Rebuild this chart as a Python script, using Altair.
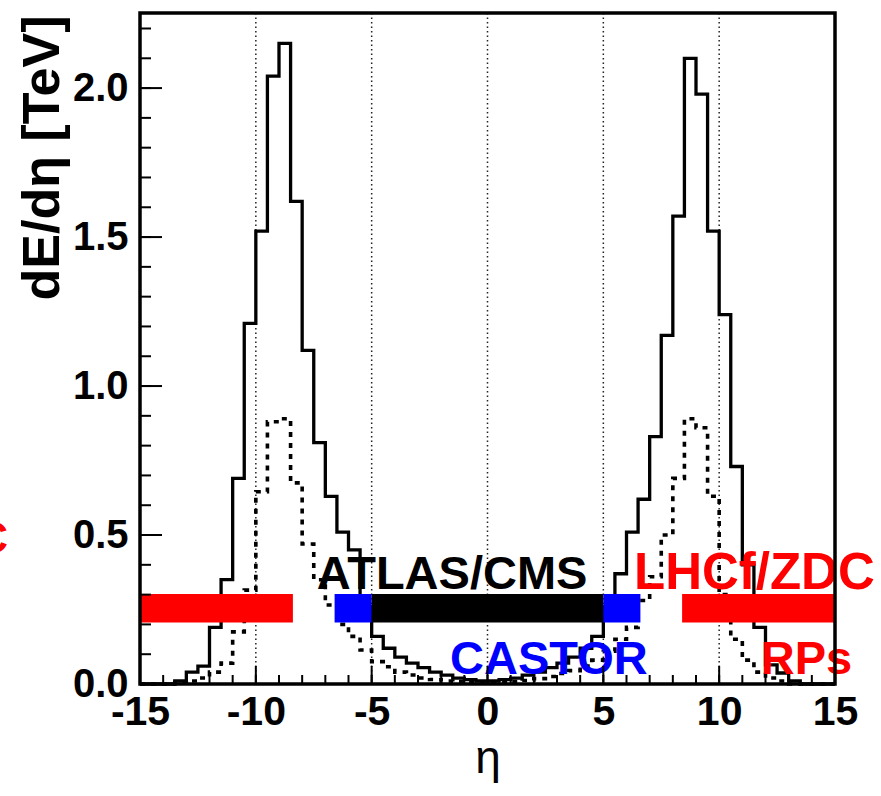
import altair as alt
import pandas as pd

# ---------------- data ----------------
bin_width = 0.5
bin_lo = [-15 + bin_width * i for i in range(60)]

solid_vals = [
    0, 0, 0, 0.01, 0.04, 0.06, 0.19, 0.35, 0.69, 1.21,
    1.52, 2.04, 2.15, 1.62, 1.12, 0.81, 0.63, 0.51, 0.45, 0.26,
    0.16, 0.12, 0.09, 0.07, 0.055, 0.04, 0.03, 0.02, 0.015, 0.01,
    0.01, 0.015, 0.02, 0.03, 0.04, 0.055, 0.07, 0.09, 0.12, 0.16,
    0.26, 0.37, 0.51, 0.62, 0.83, 1.17, 1.57, 2.10, 1.98, 1.52,
    1.24, 0.73, 0.40, 0.19, 0.064, 0.037, 0.01, 0, 0, 0,
]
dotted_vals = [
    0, 0, 0, 0.005, 0.01, 0.02, 0.04, 0.07, 0.175, 0.315,
    0.645, 0.88, 0.89, 0.675, 0.47, 0.35, 0.265, 0.20, 0.16, 0.114,
    0.075, 0.058, 0.04, 0.03, 0.02, 0.015, 0.01, 0.008, 0.005, 0.005,
    0.005, 0.005, 0.008, 0.012, 0.018, 0.025, 0.035, 0.045, 0.06, 0.08,
    0.11, 0.15, 0.19, 0.28, 0.36, 0.50, 0.69, 0.89, 0.86, 0.63,
    0.30, 0.15, 0.08, 0.04, 0.02, 0.01, 0, 0, 0, 0,
]

# detector acceptance bars
bar_start = [-15, -6.6, -5, 5, 8.4]
bar_end = [-8.4, -5, 5, 6.6, 15]
bar_color = ["#ff0000", "#0000ff", "#000000", "#0000ff", "#ff0000"]
bar_lo, bar_hi = 0.206, 0.302

# labels
label_text = ["ATLAS/CMS", "LHCf/ZDC", "CASTOR", "RPs", "LHCf/ZDC"]
label_x = [-1.53, 11.52, 2.65, 13.77, -20.7]
label_y = [0.319, 0.319, 0.034, 0.034, 0.44]
label_color = ["#000000", "#ff0000", "#0000ff", "#ff0000", "#ff0000"]
label_size = [47, 51, 47, 47, 44]
label_align = ["center", "center", "center", "center", "right"]

grid_x = [-10, -5, 0, 5, 10]
x_minor = list(range(-15, 16))
x_major = [-15, -10, -5, 0, 5, 10, 15]
y_minor = [round(0.1 * i, 1) for i in range(23)]
y_major = [0.0, 0.5, 1.0, 1.5, 2.0]

X_DOMAIN = [-15, 15]
Y_DOMAIN = [0, 2.252]
W, H = 695, 671
FONT = "Liberation Sans"

# ---------------- build ----------------
def step_frame(vals, name):
    xs_ = bin_lo + [15]
    ys_ = vals + [vals[-1]]
    return pd.DataFrame({"eta": xs_, "val": ys_, "series": name})

xs = alt.Scale(domain=X_DOMAIN, nice=False, zero=False)
ys = alt.Scale(domain=Y_DOMAIN, nice=False, zero=False)

x_axis = alt.Axis(
    values=x_major, grid=False, ticks=False, domain=False, labelFlush=False,
    labelOverlap=False,
    labelExpr="'' + datum.value", labelFont=FONT, labelFontSize=41,
    labelFontWeight="bold", labelColor="black", labelPadding=8,
    title="η", titleFont=FONT, titleFontSize=46, titleFontWeight="normal",
    titleColor="black", titleBaseline="alphabetic", titleY=88,
)
y_axis = alt.Axis(
    values=y_major, grid=False, ticks=False, domain=False, labelFlush=False,
    labelOverlap=False,
    labelExpr="format(datum.value, '.1f')", labelFont=FONT, labelFontSize=40,
    labelFontWeight="bold", labelColor="black", labelPadding=12,
    title="dE/dη [TeV]", titleFont=FONT, titleFontSize=52, titleFontWeight="bold",
    titleColor="black", titleAngle=270, titleAlign="right", titleBaseline="middle",
    titleX=-98, titleY=2,
)

base_axes = alt.Chart(pd.DataFrame({"eta": [0], "val": [0]})).mark_point(opacity=0).encode(
    x=alt.X("eta:Q", scale=xs, axis=x_axis),
    y=alt.Y("val:Q", scale=ys, axis=y_axis),
)

grid = alt.Chart(pd.DataFrame({"g": grid_x})).mark_rule(
    color="#222222", strokeWidth=1.5, strokeDash=[1.5, 3]
).encode(x=alt.X("g:Q", scale=xs))

solid = alt.Chart(step_frame(solid_vals, "solid")).mark_line(
    interpolate="step-after", color="black", strokeWidth=3.3
).encode(x=alt.X("eta:Q", scale=xs), y=alt.Y("val:Q", scale=ys))

dotted = alt.Chart(step_frame(dotted_vals, "dotted")).mark_line(
    interpolate="step-after", color="black", strokeWidth=3.6, strokeDash=[5, 6]
).encode(x=alt.X("eta:Q", scale=xs), y=alt.Y("val:Q", scale=ys))

bars_df = pd.DataFrame({"s": bar_start, "e": bar_end, "c": bar_color,
                        "lo": [bar_lo] * 5, "hi": [bar_hi] * 5})
bars = alt.Chart(bars_df).mark_rect().encode(
    x=alt.X("s:Q", scale=xs), x2="e:Q",
    y=alt.Y("lo:Q", scale=ys), y2="hi:Q",
    color=alt.Color("c:N", scale=None),
)

lab_df = pd.DataFrame({"t": label_text, "x": label_x, "y": label_y,
                       "c": label_color, "a": label_align, "fs": label_size})
labels_c = alt.Chart(lab_df[lab_df.a == "center"]).mark_text(
    font=FONT, fontWeight="bold", align="center", baseline="alphabetic"
).encode(x=alt.X("x:Q", scale=xs), y=alt.Y("y:Q", scale=ys),
         text="t:N", color=alt.Color("c:N", scale=None),
         size=alt.Size("fs:Q", scale=None, legend=None))
labels_r = alt.Chart(lab_df[lab_df.a == "right"]).mark_text(
    font=FONT, fontWeight="bold", align="right", baseline="alphabetic"
).encode(x=alt.X("x:Q", scale=xs), y=alt.Y("y:Q", scale=ys),
         text="t:N", color=alt.Color("c:N", scale=None),
         size=alt.Size("fs:Q", scale=None, legend=None))

# inside ticks
xt_minor = alt.Chart(pd.DataFrame({"t": x_minor})).mark_rule(color="black", strokeWidth=2).encode(
    x=alt.X("t:Q", scale=xs), y=alt.value(H), y2=alt.value(H - 9))
xt_major = alt.Chart(pd.DataFrame({"t": x_major})).mark_rule(color="black", strokeWidth=2).encode(
    x=alt.X("t:Q", scale=xs), y=alt.value(H), y2=alt.value(H - 18))
yt_minor = alt.Chart(pd.DataFrame({"t": y_minor})).mark_rule(color="black", strokeWidth=2).encode(
    y=alt.Y("t:Q", scale=ys), x=alt.value(0), x2=alt.value(11))
yt_major = alt.Chart(pd.DataFrame({"t": y_major})).mark_rule(color="black", strokeWidth=2).encode(
    y=alt.Y("t:Q", scale=ys), x=alt.value(0), x2=alt.value(22))

frame = alt.Chart(pd.DataFrame({"k": [0]})).mark_rect(
    filled=False, stroke="black", strokeWidth=3.5
).encode(x=alt.value(0), x2=alt.value(W), y=alt.value(0), y2=alt.value(H))

chart = alt.layer(
    base_axes, grid, dotted, solid, bars, labels_c, labels_r,
    xt_minor, xt_major, yt_minor, yt_major, frame,
).properties(
    width=W, height=H,
    autosize=alt.AutoSizeParams(type="none"),
    padding={"left": 140, "top": 13, "right": 46, "bottom": 112},
    background="white",
).configure_view(stroke=None)

chart.save("out.html", embed_options={"renderer": "svg", "actions": False})
